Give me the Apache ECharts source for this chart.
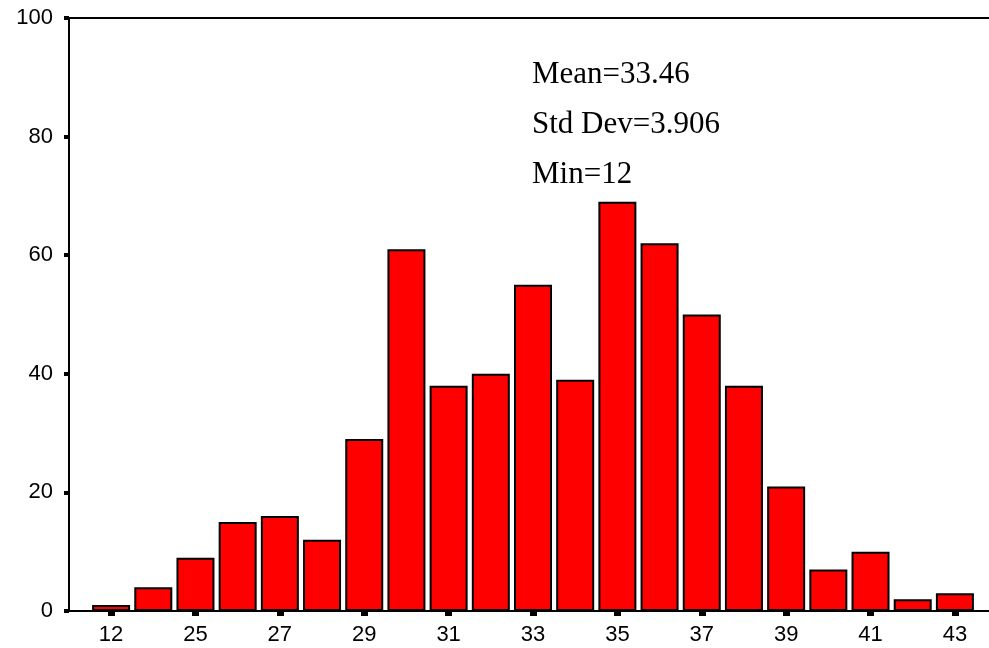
<!DOCTYPE html>
<html>
<head>
<meta charset="utf-8">
<script src="https://cdn.jsdelivr.net/npm/echarts@6/dist/echarts.min.js"></script>
<style>
html,body{margin:0;padding:0;background:#fff;}
#chart{width:989px;height:648px;}
</style>
</head>
<body>
<div id="chart"></div>
<script>
const categories = ['12','24','25','26','27','28','29','30','31','32','33','34','35','36','37','38','39','40','41','42','43'];
const counts = [1,4,9,15,16,12,29,61,38,40,55,39,69,62,50,38,21,7,10,2,3];
const yTicks = [0,20,40,60,80,100];
const statLabels = ['Mean=33.46','Std Dev=3.906','Min=12'];

const chart = echarts.init(document.getElementById('chart'), null, {renderer:'canvas'});
const sansFont = "'Liberation Sans', Arial, sans-serif";
const serifFont = "'Liberation Serif', 'Times New Roman', serif";

chart.setOption({
  animation:false,
  backgroundColor:'#fff',
  grid:[
    {left:69, right:0, top:18, bottom:37},
    {left:90, right:13, top:18, bottom:37}
  ],
  xAxis:[
    {gridIndex:0, type:'value', position:'bottom', min:0, max:1,
     axisLine:{show:true, onZero:false, lineStyle:{color:'#000', width:2}},
     axisTick:{show:false}, axisLabel:{show:false}, splitLine:{show:false}},
    {gridIndex:0, type:'value', position:'top', min:0, max:1,
     axisLine:{show:true, onZero:false, lineStyle:{color:'#000', width:2}},
     axisTick:{show:false}, axisLabel:{show:false}, splitLine:{show:false}},
    {gridIndex:1, type:'category', data:categories, position:'bottom',
     axisLine:{show:false},
     axisTick:{show:true, alignWithLabel:true, interval:1, length:5, lineStyle:{color:'#000', width:7}},
     axisLabel:{show:true, interval:1, color:'#000', fontFamily:sansFont, fontSize:22, margin:13},
     splitLine:{show:false}}
  ],
  yAxis:[
    {gridIndex:0, type:'value', min:yTicks[0], max:yTicks[yTicks.length-1], interval:yTicks[1]-yTicks[0],
     axisLine:{show:true, onZero:false, lineStyle:{color:'#000', width:2}},
     axisTick:{show:true, length:5, lineStyle:{color:'#000', width:4}},
     axisLabel:{show:true, color:'#000', fontFamily:sansFont, fontSize:22, margin:16},
     splitLine:{show:false}},
    {gridIndex:1, type:'value', min:yTicks[0], max:yTicks[yTicks.length-1],
     axisLine:{show:false}, axisTick:{show:false}, axisLabel:{show:false}, splitLine:{show:false}}
  ],
  series:[{
    type:'bar', xAxisIndex:2, yAxisIndex:1, data:counts,
    barWidth:38,
    itemStyle:{color:'#ff0000', borderColor:'#000', borderWidth:2}
  }],
  graphic: statLabels.map((t,i)=>({
    type:'text', x:532, y:75 + i*50, silent:true,
    style:{text:t, fill:'#000', fontSize:31, fontFamily:serifFont, verticalAlign:'middle', align:'left'}
  }))
});
</script>
</body>
</html>
